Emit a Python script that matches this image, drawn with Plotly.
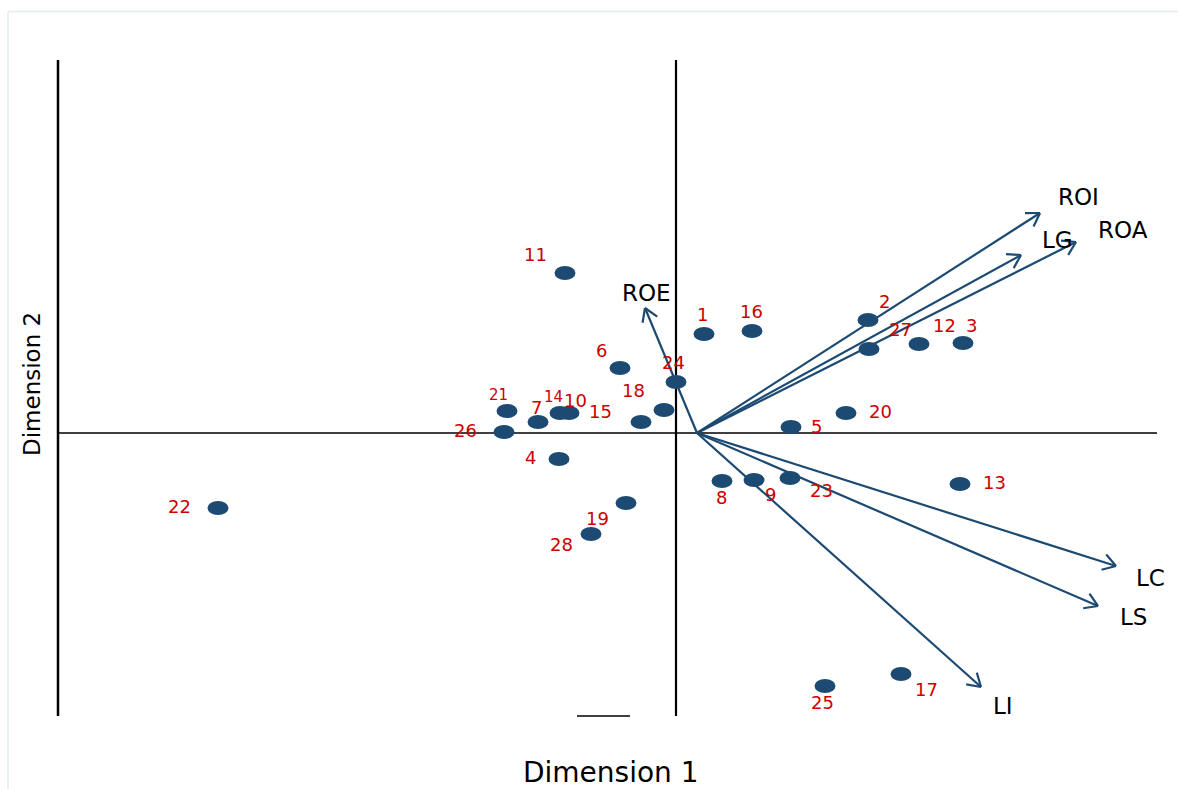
import numpy as np
import plotly.graph_objects as go

# ---------------- data ----------------
obs_labels = ["1", "16", "2", "27", "12", "3", "5", "20", "24", "18", "6", "11", "15", "10",
              "14", "7", "21", "26", "4", "19", "28", "22", "8", "9", "23", "13", "25", "17"]
dim1 = [0.14, 0.38, 0.96, 0.965, 1.215, 1.435, 0.575, 0.85, 0.0, -0.06, -0.28, -0.555, -0.175, -0.535,
        -0.58, -0.69, -0.845, -0.86, -0.585, -0.25, -0.425, -2.29, 0.23, 0.39, 0.57, 1.42, 0.745, 1.125]
dim2 = [0.495, 0.51, 0.565, 0.42, 0.445, 0.45, 0.03, 0.10, 0.255, 0.115, 0.325, 0.80, 0.055, 0.10,
        0.10, 0.055, 0.11, 0.005, -0.13, -0.35, -0.505, -0.375, -0.24, -0.235, -0.225, -0.255, -1.265, -1.205]

var_labels = ["ROI", "LG", "ROA", "ROE", "LC", "LS", "LI"]
var_dim1 = [1.82, 1.725, 2.0, -0.155, 2.20, 2.11, 1.525]
var_dim2 = [1.10, 0.89, 0.955, 0.625, -0.665, -0.865, -1.27]
arrow_origin = (0.105, 0.0)

# ---------------- styling / layout helpers ----------------
PX = 200.0  # pixels per unit (equal on both axes)
BLUE = "#1c4a72"
RED = "#cc0000"
FONT = "DejaVu Sans"

# label offsets in pixels (dx right, dy down)
obs_off = {
    "1": (-2, -20), "16": (-1, -20), "2": (16, -19), "27": (31, -20), "12": (25, -19), "3": (8, -18),
    "5": (25, -1), "20": (34, -2), "24": (-3, -20), "18": (-31, -20), "6": (-19, -18), "11": (-30, -19),
    "15": (-41, -11), "10": (6, -13), "14": (-7, -16), "7": (-2, -15), "21": (-9, -16), "26": (-39, -2),
    "4": (-29, -2), "19": (-29, 15), "28": (-30, 10), "22": (-39, -2), "8": (-1, 16), "9": (16, 14),
    "23": (31, 12), "13": (34, -2), "25": (-3, 16), "17": (25, 15),
}
obs_size = {"14": 15, "21": 15}
var_off = {"ROI": (38, -16), "LG": (36, -15), "ROA": (47, -12), "ROE": (1, -15),
           "LC": (34, 12), "LS": (35, 11), "LI": (22, 19)}

fig = go.Figure()

# arrows (shafts + open heads)
ax, ay = arrow_origin
xs, ys = [], []
head_len = 15 / PX
ang = np.deg2rad(32)
for vx, vy in zip(var_dim1, var_dim2):
    xs += [ax, vx, None]
    ys += [ay, vy, None]
    d = np.array([vx - ax, vy - ay])
    d = d / np.linalg.norm(d)
    for s in (ang, -ang):
        r = np.array([d[0] * np.cos(s) - d[1] * np.sin(s), d[0] * np.sin(s) + d[1] * np.cos(s)])
        xs += [vx - head_len * r[0], vx, None]
        ys += [vy - head_len * r[1], vy, None]
fig.add_trace(go.Scatter(x=xs, y=ys, mode="lines", line=dict(color=BLUE, width=2.2),
                         hoverinfo="skip", showlegend=False))

# observation points as ellipses (shapes in data coordinates)
rx, ry = 10.5 / PX, 7 / PX
shapes = []
for x, y in zip(dim1, dim2):
    shapes.append(dict(type="circle", xref="x", yref="y", x0=x - rx, x1=x + rx, y0=y - ry, y1=y + ry,
                       fillcolor=BLUE, line=dict(color=BLUE, width=0), layer="above"))
fig.add_trace(go.Scatter(x=dim1, y=dim2, mode="markers", marker=dict(size=1, color=BLUE, opacity=0),
                         text=obs_labels, hoverinfo="text", showlegend=False))

# reference lines
x_left, x_right = -3.09, 2.405
y_top, y_bot = 1.865, -1.415
shapes += [
    dict(type="line", xref="x", yref="y", x0=x_left, x1=x_right, y0=0, y1=0, line=dict(color="black", width=1.5), layer="below"),
    dict(type="line", xref="x", yref="y", x0=0, x1=0, y0=y_bot, y1=y_top, line=dict(color="black", width=2.2), layer="below"),
    dict(type="line", xref="x", yref="y", x0=x_left, x1=x_left, y0=y_bot, y1=y_top, line=dict(color="black", width=2.5), layer="below"),
    dict(type="line", xref="x", yref="y", x0=-0.495, x1=-0.23, y0=y_bot, y1=y_bot, line=dict(color="black", width=1.5), layer="below"),
    # faint outer frame
    dict(type="line", xref="paper", yref="paper", x0=8 / 1178, x1=1.01, y0=1 - 11.5 / 789, y1=1 - 11.5 / 789,
         line=dict(color="#e3eded", width=1.5), layer="below"),
    dict(type="line", xref="paper", yref="paper", x0=8 / 1178, x1=8 / 1178, y0=-0.01, y1=1 - 11.5 / 789,
         line=dict(color="#e3eded", width=1.5), layer="below"),
]

annotations = []
for lab, x, y in zip(obs_labels, dim1, dim2):
    dx, dy = obs_off[lab]
    annotations.append(dict(x=x, y=y, xref="x", yref="y", text=lab, showarrow=False,
                            xanchor="center", yanchor="middle",
                            xshift=dx, yshift=-dy,
                            font=dict(family=FONT, size=obs_size.get(lab, 18), color=RED)))
for lab, x, y in zip(var_labels, var_dim1, var_dim2):
    dx, dy = var_off[lab]
    annotations.append(dict(x=x, y=y, xref="x", yref="y", text=lab, showarrow=False,
                            xanchor="center", yanchor="middle",
                            xshift=dx, yshift=-dy, font=dict(family=FONT, size=23, color="black")))
annotations.append(dict(x=611 / 1178, y=1 - 772 / 789, xref="paper", yref="paper", text="Dimension 1",
                        xanchor="center", yanchor="middle",
                        showarrow=False, font=dict(family=FONT, size=28, color="black")))
annotations.append(dict(x=32 / 1178, y=1 - 384 / 789, xref="paper", yref="paper", text="Dimension 2",
                        xanchor="center", yanchor="middle",
                        showarrow=False, textangle=-90, font=dict(family=FONT, size=23, color="black")))

W, H = 1178, 789
x0_px, y0_px = 676, 433
fig.update_layout(
    width=W, height=H,
    margin=dict(l=0, r=0, t=0, b=0, pad=0),
    paper_bgcolor="white", plot_bgcolor="white",
    xaxis=dict(range=[-x0_px / PX, (W - x0_px) / PX], visible=False, fixedrange=True),
    yaxis=dict(range=[-(H - y0_px) / PX, y0_px / PX], visible=False, fixedrange=True),
    shapes=shapes, annotations=annotations, showlegend=False,
)

fig.write_html("out.html", post_script="document.body.style.margin='0';",
               config={"displayModeBar": False})
